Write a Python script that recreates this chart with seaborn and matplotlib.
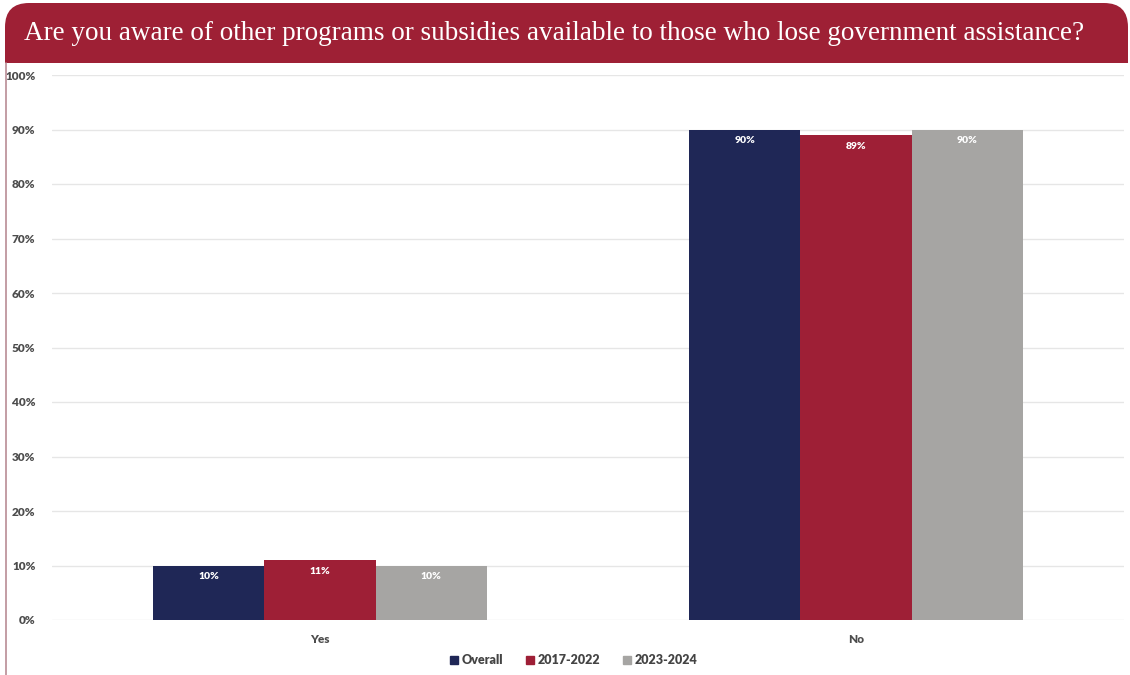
import numpy as np
import pandas as pd
import matplotlib
matplotlib.use("Agg")
import matplotlib.pyplot as plt
import seaborn as sns
from matplotlib.patches import FancyBboxPatch, Rectangle
from matplotlib.lines import Line2D
from matplotlib.transforms import IdentityTransform

# data
answers = ["Yes", "No"]
periods = ["Overall", "2017-2022", "2023-2024"]
overall = [10, 90]
period_2017_2022 = [11, 89]
period_2023_2024 = [10, 90]
colors = ["#1F2756", "#9E1F36", "#A6A5A3"]
title = "Are you aware of other programs or subsidies available to those who lose government assistance?"

df = pd.DataFrame({
    "answer": answers * 3,
    "period": [p for p in periods for _ in answers],
    "value": overall + period_2017_2022 + period_2023_2024,
})

sns.set_theme(style="white")
plt.rcParams["font.family"] = ["Lato", "DejaVu Sans"]

W, H = 1130, 675
fig = plt.figure(figsize=(W / 100, H / 100), dpi=100)
ax = fig.add_axes([52 / W, 1 - 620 / H, 1072 / W, 545 / H])

sns.barplot(data=df, x="answer", y="value", hue="period", order=answers,
            hue_order=periods, palette=colors, width=0.623, saturation=1,
            edgecolor="none", linewidth=0, ax=ax, legend=False, zorder=2)

ax.set_xlim(-0.5, 1.5)
ax.set_ylim(0, 100)
ax.set_yticks(np.arange(0, 101, 10))
ax.set_yticklabels([f"{v}%" for v in range(0, 101, 10)])
ax.grid(axis="y", color="#E6E6E6", linewidth=1, zorder=0)
ax.set_axisbelow(True)
for s in ax.spines.values():
    s.set_visible(False)
ax.set_xlabel("")
ax.set_ylabel("")
ax.tick_params(axis="both", length=0, labelsize=8.5, labelcolor="#4D4D4D")
ax.tick_params(axis="y", pad=12)
ax.tick_params(axis="x", pad=10)
for lab in ax.get_xticklabels() + ax.get_yticklabels():
    lab.set_fontweight("heavy")

# value labels inside bars
for cont in ax.containers:
    for bar in cont:
        h = bar.get_height()
        ax.annotate(f"{h:.0f}%", (bar.get_x() + bar.get_width() / 2, h),
                    xytext=(0, -8), textcoords="offset points",
                    ha="center", va="center", fontsize=7.5, fontweight="heavy",
                    color="white")

# legend
handles = [Line2D([], [], marker="s", linestyle="none", markersize=5.5,
                  markerfacecolor=c, markeredgecolor=c) for c in colors]
fig.legend(handles, periods, loc="center", bbox_to_anchor=(572 / W, 1 - 660 / H),
           ncol=3, frameon=False, handletextpad=0.05, handlelength=1.2,
           columnspacing=1.5, prop={"weight": "heavy", "size": 9},
           labelcolor="#444444")

# header band with rounded top corners
band_color = "#9E2035"
band = FancyBboxPatch((5, H - 63), W - 7, 60, boxstyle="round,pad=0,rounding_size=24",
                      transform=IdentityTransform(), facecolor=band_color,
                      edgecolor="none", zorder=0)
fig.patches.append(band)
band_low = Rectangle((5, H - 63), W - 7, 30, transform=IdentityTransform(),
                     facecolor=band_color, edgecolor="none", zorder=0)
fig.patches.append(band_low)
fig.add_artist(Line2D([5.5 / W, 5.5 / W], [0, 1 - 63 / H], color="#B98C95",
                      linewidth=1.2))
fig.text(24 / W, 1 - 34 / H, title, ha="left", va="center", color="white",
         fontsize=19.5, family=["Liberation Serif"])

fig.savefig("out.png", dpi=100)
